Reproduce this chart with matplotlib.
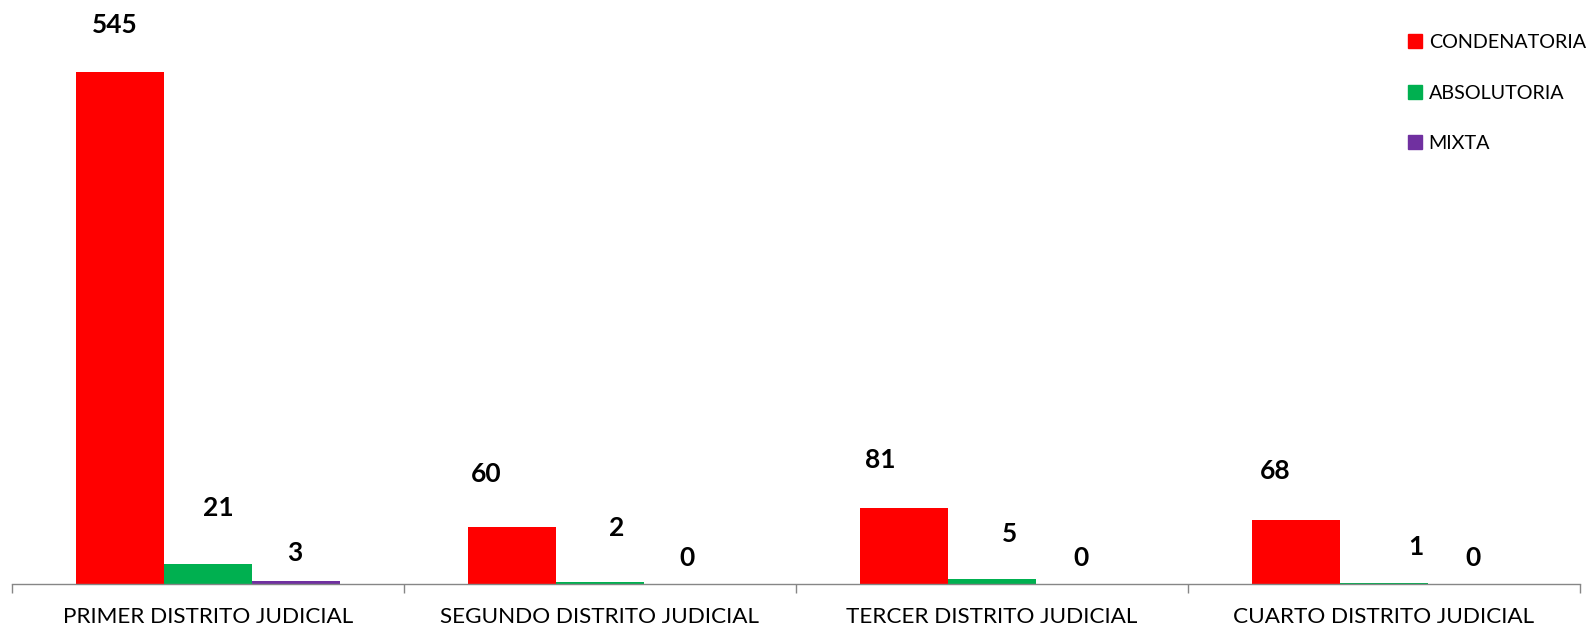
import matplotlib
matplotlib.use("Agg")
import matplotlib.pyplot as plt
from matplotlib.lines import Line2D
import numpy as np

plt.rcParams['font.family'] = ['Lato', 'DejaVu Sans']

# datos
distritos = ["PRIMER DISTRITO JUDICIAL", "SEGUNDO DISTRITO JUDICIAL",
             "TERCER DISTRITO JUDICIAL", "CUARTO DISTRITO JUDICIAL"]
series = ["CONDENATORIA", "ABSOLUTORIA", "MIXTA"]
condenatoria = [545, 60, 81, 68]
absolutoria = [21, 2, 5, 1]
mixta = [3, 0, 0, 0]

colores = ["#FF0000", "#00B050", "#7030A0"]

# desplazamiento de etiquetas (pixeles) como en la captura
label_dx = [[-5, 10, -1], [-26, 17, -1], [-24, 18, 1], [-21, 32, 1]]
label_dy = [[47, 56, 28], [53, 54, 26], [48, 45, 26], [49, 36, 26]]

fig = plt.figure(figsize=(15.94, 6.3), dpi=100)
ax = fig.add_axes([12 / 1594, 46.5 / 630, 1568 / 1594, 1 - 20.7 / 630 - 46.5 / 630])

x = np.arange(len(distritos))
w = 0.2245
valores = [condenatoria, absolutoria, mixta]
for i, (vals, col, nombre) in enumerate(zip(valores, colores, series)):
    pos = x + (i - 1) * w
    ax.bar(pos, vals, width=w, color=col, label=nombre)
    for g, (p, v) in enumerate(zip(pos, vals)):
        ax.annotate(str(v), (p, v), xytext=(label_dx[g][i], label_dy[g][i]),
                    textcoords="offset pixels", ha="center", va="center",
                    fontsize=19, fontweight="bold", color="black")

ax.set_xlim(-0.5, len(distritos) - 0.5)
ax.set_ylim(0, 600)
ax.set_yticks([])
for s in ["top", "right", "left"]:
    ax.spines[s].set_visible(False)
ax.spines["bottom"].set_color("#868686")
ax.spines["bottom"].set_linewidth(1)

ax.set_xticks(x)
ax.set_xticklabels(distritos, fontsize=16.2)
ax.tick_params(axis="x", which="major", length=0, pad=17)
ax.set_xticks(np.arange(len(distritos) + 1) - 0.5, minor=True)
ax.tick_params(axis="x", which="minor", length=6.5, color="#868686", width=1)

handles = [Line2D([], [], marker="s", linestyle="none", markersize=10.5,
                  markerfacecolor=c, markeredgecolor=c) for c in colores]
fig.legend(handles, series, loc="upper left", bbox_to_anchor=(1408 / 1594, 1 - 34 / 630),
           frameon=False, fontsize=14.2, handlelength=0.75, handletextpad=0.3,
           labelspacing=1.7, borderaxespad=0, borderpad=0)

fig.savefig("out.png", dpi=100)
